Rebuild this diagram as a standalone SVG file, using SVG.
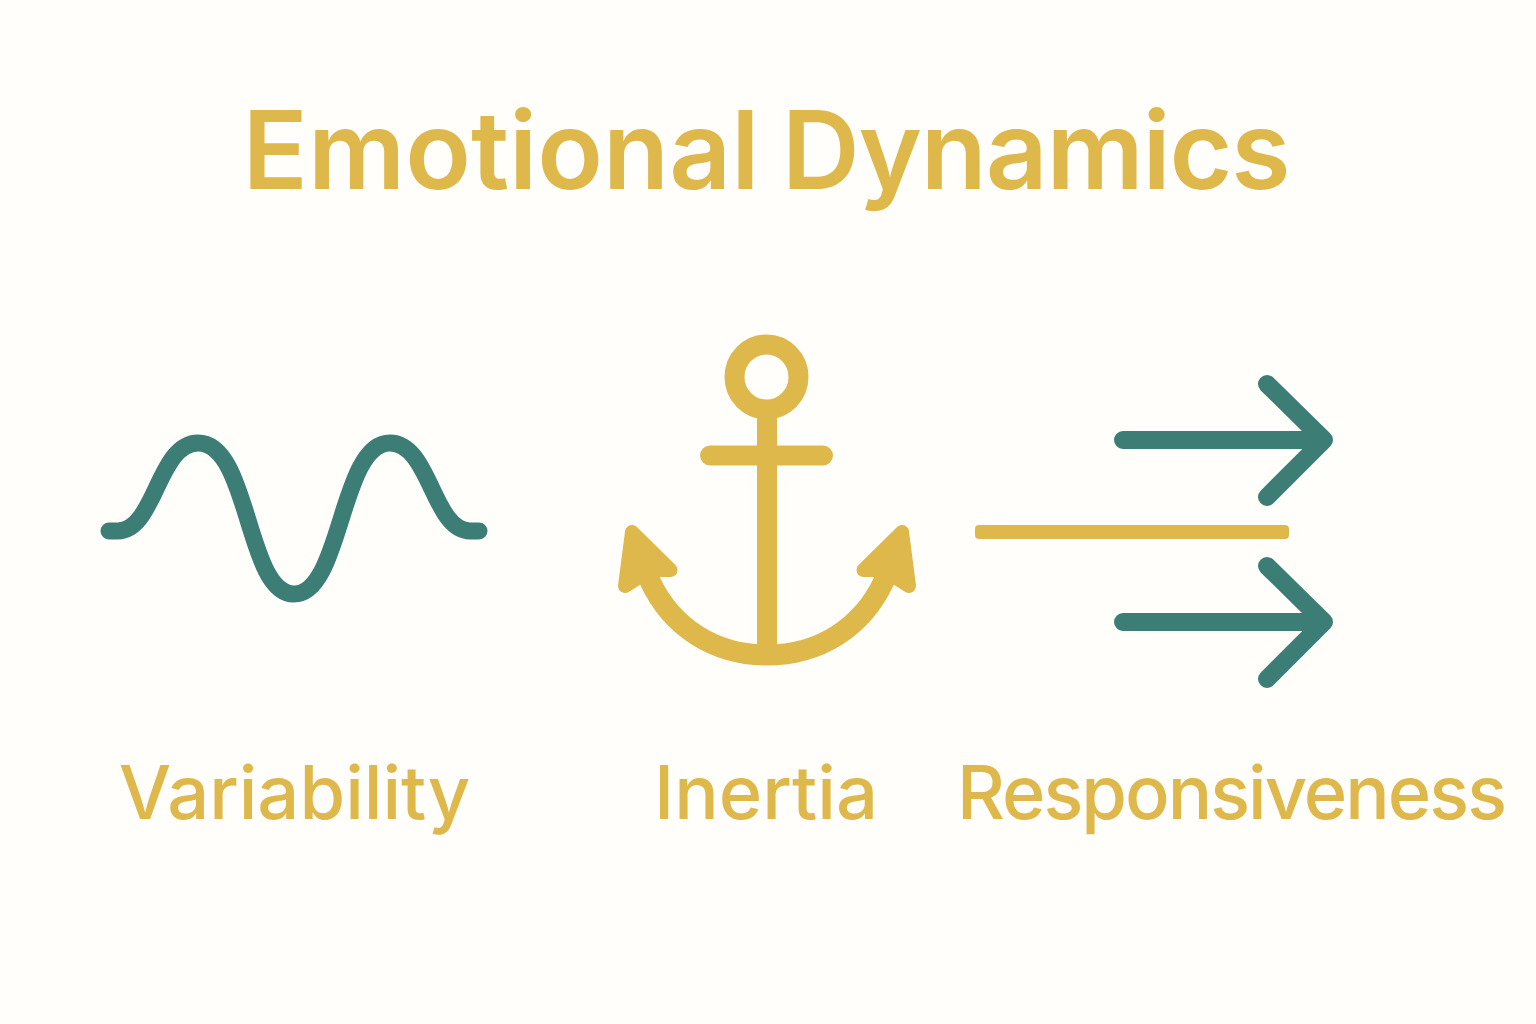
<svg xmlns="http://www.w3.org/2000/svg" width="1536" height="1024" viewBox="0 0 1536 1024">
<style>
.t{font-family:"Inter","Liberation Sans",sans-serif;fill:#dfb84c;text-anchor:middle}
.h{font-size:108px;font-weight:600;word-spacing:-5px}
.l{font-size:74px;font-weight:500}
.teal{fill:none;stroke:#3c7d76;stroke-width:18;stroke-linecap:round;stroke-linejoin:round}
.gold{fill:none;stroke:#dfb84c;stroke-width:20;stroke-linecap:round}
</style>
<rect width="1536" height="1024" fill="#fffefb"/>
<g id="title"><text class="t h" x="766" y="189">Emotional <tspan letter-spacing="-1.2">Dynamics</tspan></text></g>
<g id="variability">
<path class="teal" style="stroke-width:17" d="M109 531H118C155 531 158 443 198 443C250 443 246 594 294 594C342 594 340 443 390 443C430 443 433 531 470 531H479"/>
<text class="t l" x="294.500" y="819">Variability</text>
</g>
<g id="inertia">
<ellipse cx="766.500" cy="377" rx="32" ry="32.500" fill="none" stroke="#dfb84c" stroke-width="20"/>
<path d="M767 415V650" fill="none" stroke="#dfb84c" stroke-width="20"/>
<path class="gold" d="M710 455.500H823"/>
<path d="M640 560L650 581C672 628 715 655 767 655C819 655 862 628 884 581L894 560" fill="none" stroke="#dfb84c" stroke-width="21"/>
<path d="M632 532L670.500 570H650L625 586Z" fill="#dfb84c" stroke="#dfb84c" stroke-width="14" stroke-linejoin="round"/>
<path d="M902 532L863.500 570H884L909 586Z" fill="#dfb84c" stroke="#dfb84c" stroke-width="14" stroke-linejoin="round"/>
<text class="t l" x="766" y="819">Inertia</text>
</g>
<g id="responsiveness">
<rect x="975" y="525" width="314" height="14" rx="4" fill="#dfb84c"/>
<path class="teal" d="M1123 440H1324M1267 384L1324 440L1267 497"/>
<path class="teal" d="M1123 622H1324M1267 566L1324 622L1267 679"/>
<text class="t l" x="1231" y="819" letter-spacing="-2">Responsiveness</text>
</g>
</svg>
